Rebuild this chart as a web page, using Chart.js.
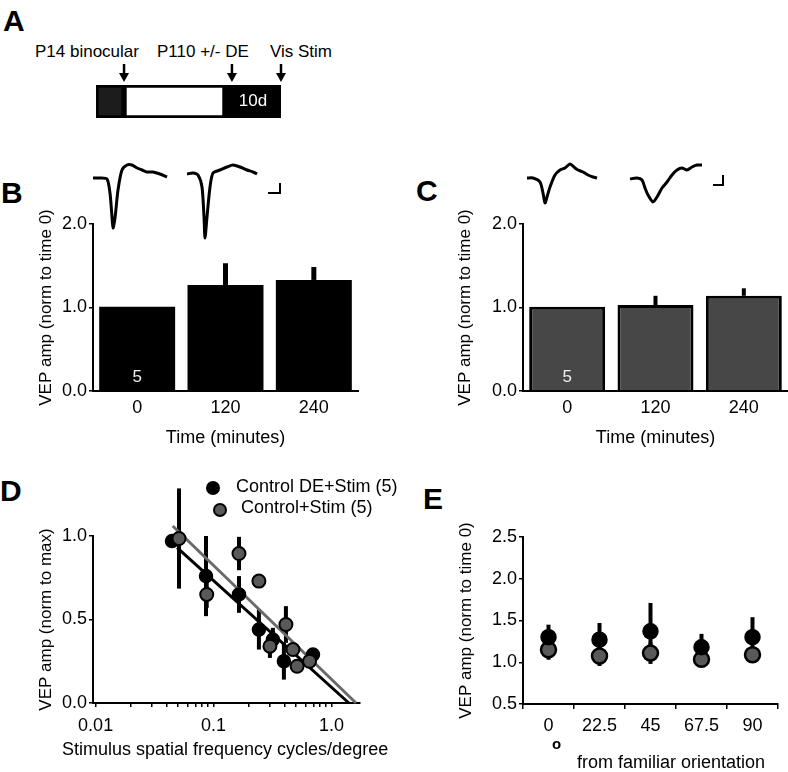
<!DOCTYPE html>
<html lang="en">
<head>
<meta charset="UTF-8">
<title>VEP amplitude figure</title>
<script src="https://cdn.jsdelivr.net/npm/chart.js@4"></script>
<style>
  body { margin: 0; background: #fff; }
  #fig { position: relative; width: 788px; height: 772px; overflow: hidden;
         font-family: 'Liberation Sans', Arial, sans-serif; color: #000; background: #fff; }
  #fig canvas, #fig .t, #fig .dot { position: absolute; }
  .t { white-space: nowrap; line-height: 1; }
  .panel { font-size: 30px; font-weight: bold; }
  .note { font-size: 17px; }
  .leg { font-size: 18px; }
  .dot { width: 14px; height: 14px; border-radius: 50%; box-sizing: border-box; }
</style>
</head>
<body>
<div id="fig">
  <div class="t panel" style="left:3px;top:6px">A</div>
  <div class="t panel" style="left:1px;top:178px">B</div>
  <div class="t panel" style="left:416px;top:176px">C</div>
  <div class="t panel" style="left:0px;top:476px">D</div>
  <div class="t panel" style="left:423px;top:484px">E</div>

  <div class="t note" style="left:35px;top:43px">P14 binocular</div>
  <div class="t note" style="left:157px;top:43px">P110 +/- DE</div>
  <div class="t note" style="left:270px;top:43px">Vis Stim</div>
  <canvas id="cA" width="200" height="65" style="left:90px;top:60px"></canvas>

  <canvas id="trB" width="205" height="95" style="left:85px;top:155px"></canvas>
  <canvas id="trC" width="215" height="60" style="left:515px;top:155px"></canvas>

  <canvas id="cB" width="370" height="255" style="left:0px;top:200px"></canvas>
  <canvas id="cC" width="358" height="255" style="left:430px;top:200px"></canvas>
  <canvas id="cD" width="400" height="302" style="left:0px;top:470px"></canvas>
  <canvas id="cE" width="358" height="302" style="left:430px;top:470px"></canvas>

  <span class="dot" style="left:206px;top:481px;background:#000"></span>
  <div class="t leg" style="left:236px;top:477px">Control DE+Stim (5)</div>
  <span class="dot" style="left:213px;top:503px;background:#595959;border:2px solid #000"></span>
  <div class="t leg" style="left:241px;top:498px">Control+Stim (5)</div>

  <div class="t leg" style="left:62px;top:740px">Stimulus spatial frequency cycles/degree</div>

  <div class="t" style="left:552px;top:736px;font-size:15px;font-weight:bold">o</div>
  <div class="t leg" style="left:577px;top:753px">from familiar orientation</div>
</div>

<script>
// ---- panel A: timeline (arbitrary units along the bar) ----
const timelineSegments = [1, 3.6, 2];
const timelineText = ['', '', '10d'];
const timelineArrows = [1, 4.85, 6.6];

// ---- panels B / C: VEP amplitude over time ----
const timeLabels = ['0', '120', '240'];
const vepDE = [1.01, 1.27, 1.33];
const vepDEErr = [0, 0.26, 0.155];
const vepCtrl = [1.01, 1.03, 1.14];
const vepCtrlErr = [0, 0.11, 0.09];
const barCounts = ['5', '', ''];

// example traces (ms, uV-ish units)
const trB0x = [8, 15, 22, 25, 27, 28, 30, 33, 37, 42, 47, 52, 57, 62, 68, 75, 82];
const trB0y = [0, 0, -1, -15, -39, -50, -40, -12, 8, 13, 13, 10, 8, 6, 6, 4, 1];
const trB1x = [102, 108, 113, 117, 119, 120, 122, 125, 128, 135, 142, 148, 155, 162, 168, 172];
const trB1y = [4, 5, 3, -9, -39, -60, -39, -9, 5, 8, 11, 13, 11, 8, 6, 4];
const scaleBx = [183, 195, 195];
const scaleBy = [-15, -15, -5];
const trC0x = [12, 18, 25, 28, 30, 32, 35, 40, 45, 50, 55, 60, 63, 68, 73, 78, 82];
const trC0y = [0, 0, -4, -15, -25, -19, -9, 3, 8, 10, 14, 10, 8, 6, 3, 1, 0];
const trC1x = [115, 122, 127, 130, 133, 138, 142, 147, 152, 157, 162, 167, 172, 177, 182, 187];
const trC1y = [-1, 0, -2, -10, -17, -24, -19, -10, -4, 3, 8, 10, 8, 11, 13, 13];
const scaleCx = [198, 208, 208];
const scaleCy = [-7, -7, 3];

// ---- panel D: spatial frequency ----
const sfDE = [0.0444, 0.0862, 0.164, 0.242, 0.318, 0.394, 0.695];
const ampDE = [0.97, 0.76, 0.65, 0.44, 0.38, 0.25, 0.29];
const errDE = [0, 0.24, 0.11, 0.12, 0.07, 0.11, 0.03];
const sfCtrl = [0.0509, 0.0874, 0.164, 0.242, 0.30, 0.41, 0.47, 0.51, 0.65];
const ampCtrl = [0.985, 0.65, 0.895, 0.73, 0.34, 0.47, 0.32, 0.22, 0.25];
const errCtrl = [0.30, 0.08, 0.10, 0, 0.07, 0.11, 0, 0, 0];
const fitDEx = [0.049, 1.40];
const fitDEy = [0.93, 0];
const fitCtrlx = [0.045, 1.61];
const fitCtrly = [1.06, 0];
const sfTicks = [0.01, 0.02, 0.03, 0.04, 0.05, 0.06, 0.07, 0.08, 0.09,
                 0.1, 0.2, 0.3, 0.4, 0.5, 0.6, 0.7, 0.8, 0.9, 1.0];
const sfTickLabels = { 0.01: '0.01', 0.1: '0.1', 1: '1.0' };

// ---- panel E: orientation ----
const orientLabels = ['0', '22.5', '45', '67.5', '90'];
const oriDE = [1.30, 1.27, 1.37, 1.18, 1.30];
const oriDEErr = [0.15, 0.20, 0.34, 0.16, 0.24];
const oriCtrl = [1.15, 1.075, 1.11, 1.035, 1.09];
const oriCtrlErr = [0.12, 0.12, 0.13, 0.05, 0.05];

const GREY = '#595959';
const FONT = "'Liberation Sans', Arial, sans-serif";
Chart.defaults.font.family = FONT;
Chart.defaults.font.size = 18;
Chart.defaults.color = '#000';

const pts = (xs, ys) => xs.map((x, i) => ({ x: x, y: ys[i] }));
const fixY = w => s => { s.width = w; s.paddingTop = 0; s.paddingBottom = 0; };
const fixX = h => s => { s.height = h; s.paddingLeft = 0; s.paddingRight = 0; };
const base = { responsive: false, animation: false, devicePixelRatio: 1,
  plugins: { legend: { display: false }, tooltip: { enabled: false } } };

// vertical error bars, drawn under the marks
const errorBars = {
  id: 'errorBars',
  beforeDatasetsDraw(chart) {
    const ctx = chart.ctx, y = chart.scales.y;
    chart.data.datasets.forEach((ds, i) => {
      if (!ds.errors) return;
      const meta = chart.getDatasetMeta(i);
      ctx.save();
      ctx.strokeStyle = '#000';
      ctx.lineWidth = ds.errorWidth || 4;
      meta.data.forEach((el, j) => {
        const e = ds.errors[j];
        if (!e) return;
        const v = typeof ds.data[j] === 'object' ? ds.data[j].y : ds.data[j];
        const top = y.getPixelForValue(v + e);
        const bot = ds.errorUp ? y.getPixelForValue(v) : y.getPixelForValue(v - e);
        ctx.beginPath();
        ctx.moveTo(el.x, top);
        ctx.lineTo(el.x, bot);
        ctx.stroke();
      });
      ctx.restore();
    });
  }
};

// "n" inside the first bar
const barCount = {
  id: 'barCount',
  afterDatasetsDraw(chart) {
    const ctx = chart.ctx, y0 = chart.scales.y.getPixelForValue(0);
    chart.data.datasets.forEach((ds, i) => {
      if (!ds.inside) return;
      chart.getDatasetMeta(i).data.forEach((el, j) => {
        if (!ds.inside[j]) return;
        ctx.save();
        ctx.fillStyle = '#eee';
        ctx.font = '17px ' + FONT;
        ctx.textAlign = 'center';
        ctx.textBaseline = 'middle';
        ctx.fillText(ds.inside[j], el.x, y0 - 14);
        ctx.restore();
      });
    });
  }
};

// timeline label + arrows
const timelineDeco = {
  id: 'timelineDeco',
  afterDraw(chart) {
    const ctx = chart.ctx, top = chart.chartArea.top;
    chart.data.datasets.forEach((ds, i) => {
      const el = chart.getDatasetMeta(i).data[0];
      if (!ds.inside[0]) return;
      ctx.save();
      ctx.fillStyle = '#fff';
      ctx.font = '17px ' + FONT;
      ctx.textAlign = 'center';
      ctx.textBaseline = 'middle';
      ctx.fillText(ds.inside[0], (el.x + el.base) / 2, el.y);
      ctx.restore();
    });
    ctx.save();
    ctx.strokeStyle = '#000';
    ctx.fillStyle = '#000';
    ctx.lineWidth = 2.5;
    timelineArrows.forEach(v => {
      const x = chart.scales.x.getPixelForValue(v);
      ctx.beginPath();
      ctx.moveTo(x, top - 21);
      ctx.lineTo(x, top - 10);
      ctx.stroke();
      ctx.beginPath();
      ctx.moveTo(x - 5, top - 12);
      ctx.lineTo(x + 5, top - 12);
      ctx.lineTo(x, top - 3);
      ctx.closePath();
      ctx.fill();
    });
    ctx.restore();
  }
};

// ---- A ----
const timelineColors = ['#1c1c1c', '#fff', '#000'];
new Chart(document.getElementById('cA'), {
  type: 'bar',
  data: {
    labels: [''],
    datasets: timelineSegments.map((v, i) => ({
      data: [v], inside: [timelineText[i]],
      backgroundColor: timelineColors[i], borderColor: '#000', borderWidth: 3,
      borderSkipped: false, barPercentage: 1, categoryPercentage: 1
    }))
  },
  options: Object.assign({}, base, {
    indexAxis: 'y',
    layout: { padding: { left: 6, right: 9, top: 25, bottom: 7 } },
    scales: {
      x: { stacked: true, display: false, min: 0, max: 6.6 },
      y: { stacked: true, display: false }
    }
  }),
  plugins: [timelineDeco]
});

// ---- traces ----
function traceChart(id, sets, xmax, ymin, ymax) {
  new Chart(document.getElementById(id), {
    type: 'line',
    data: { datasets: sets },
    options: Object.assign({}, base, {
      layout: { padding: 0 },
      scales: {
        x: { type: 'linear', display: false, min: 0, max: xmax },
        y: { display: false, min: ymin, max: ymax }
      }
    })
  });
}
const trace = (xs, ys) => ({ data: pts(xs, ys), borderColor: '#000', borderWidth: 3,
  pointRadius: 0, tension: 0.25, clip: false });
const bar = (xs, ys) => ({ data: pts(xs, ys), borderColor: '#000', borderWidth: 2,
  pointRadius: 0, tension: 0, clip: false });
traceChart('trB', [trace(trB0x, trB0y), trace(trB1x, trB1y), bar(scaleBx, scaleBy)], 205, -72, 23);
traceChart('trC', [trace(trC0x, trC0y), trace(trC1x, trC1y), bar(scaleCx, scaleCy)], 215, -37, 23);

// ---- B and C bar charts ----
function barChart(id, values, errs, fill, border, errW, padRight, titlePad) {
  new Chart(document.getElementById(id), {
    type: 'bar',
    data: {
      labels: timeLabels,
      datasets: [{
        data: values, errors: errs, errorUp: true, errorWidth: errW, inside: barCounts,
        backgroundColor: fill, borderColor: '#000', borderWidth: border,
        barPercentage: 0.86, categoryPercentage: 1
      }]
    },
    options: Object.assign({}, base, {
      layout: { padding: { top: 24, right: padRight, left: 0, bottom: 0 } },
      scales: {
        x: {
          grid: { display: false, drawTicks: false },
          border: { color: '#000', width: 2 },
          ticks: { padding: 6 },
          title: { display: true, text: 'Time (minutes)', padding: { top: 0, bottom: 6 } },
          afterFit: fixX(64)
        },
        y: {
          min: 0, max: 2,
          ticks: { stepSize: 1, padding: 2, callback: v => v.toFixed(1) },
          grid: { drawOnChartArea: false, tickLength: 4, color: '#000', lineWidth: 1.5 },
          border: { color: '#000', width: 2 },
          title: { display: true, text: 'VEP amp (norm to time 0)', font: { size: 17 },
                   padding: { top: titlePad, bottom: 0 } },
          afterFit: fixY(93)
        }
      }
    }),
    plugins: [errorBars, barCount]
  });
}
barChart('cB', vepDE, vepDEErr, '#000', 0, 5, 12, 36);
barChart('cC', vepCtrl, vepCtrlErr, '#474747', 3, 4, 0, 25);

// ---- D ----
new Chart(document.getElementById('cD'), {
  type: 'scatter',
  data: {
    datasets: [
      { data: pts(fitDEx, fitDEy), showLine: true, borderColor: '#000', borderWidth: 3,
        pointRadius: 0, order: 3, clip: false },
      { data: pts(fitCtrlx, fitCtrly), showLine: true, borderColor: '#6a6a6a', borderWidth: 3,
        pointRadius: 0, order: 2, clip: false },
      { data: pts(sfDE, ampDE), errors: errDE, backgroundColor: '#000', borderColor: '#000',
        borderWidth: 1.5, pointRadius: 6.5, order: 1, clip: false },
      { data: pts(sfCtrl, ampCtrl), errors: errCtrl, backgroundColor: GREY, borderColor: '#000',
        borderWidth: 2, pointRadius: 6.5, order: 0, clip: false }
    ]
  },
  options: Object.assign({}, base, {
    layout: { padding: { top: 66, right: 40, left: 0, bottom: 0 } },
    scales: {
      x: {
        type: 'logarithmic', min: 0.0095, max: 1.74,
        afterBuildTicks: s => { s.ticks = sfTicks.map(v => ({ value: v })); },
        ticks: { autoSkip: false, maxRotation: 0, padding: 8,
                 callback: v => sfTickLabels[v] || '' },
        grid: { drawOnChartArea: false, tickLength: 4, color: '#000', lineWidth: 1.5 },
        border: { color: '#000', width: 2 },
        afterFit: fixX(69)
      },
      y: {
        min: 0, max: 1,
        ticks: { stepSize: 0.5, padding: 2, callback: v => v.toFixed(1) },
        grid: { drawOnChartArea: false, tickLength: 4, color: '#000', lineWidth: 1.5 },
        border: { color: '#000', width: 2 },
        title: { display: true, text: 'VEP amp (norm to max)', font: { size: 17 },
                 padding: { top: 36, bottom: 0 } },
        afterFit: fixY(93)
      }
    }
  }),
  plugins: [errorBars]
});

// ---- E ----
new Chart(document.getElementById('cE'), {
  type: 'line',
  data: {
    labels: orientLabels,
    datasets: [
      { data: oriDE, errors: oriDEErr, showLine: false, backgroundColor: '#000',
        borderColor: '#000', borderWidth: 1.5, pointRadius: 7.5, order: 0, clip: false },
      { data: oriCtrl, errors: oriCtrlErr, showLine: false, backgroundColor: GREY,
        borderColor: '#000', borderWidth: 2.5, pointRadius: 7.5, order: 1, clip: false }
    ]
  },
  options: Object.assign({}, base, {
    layout: { padding: { top: 67, right: 0, left: 0, bottom: 0 } },
    scales: {
      x: {
        offset: true,
        grid: { offset: true, drawOnChartArea: false, tickLength: 5, color: '#000', lineWidth: 1.5 },
        border: { color: '#000', width: 2 },
        ticks: { padding: 6 },
        afterFit: fixX(68)
      },
      y: {
        min: 0.5, max: 2.5,
        ticks: { stepSize: 0.5, padding: 2, callback: v => v.toFixed(1) },
        grid: { drawOnChartArea: false, tickLength: 4, color: '#000', lineWidth: 1.5 },
        border: { color: '#000', width: 2 },
        title: { display: true, text: 'VEP amp (norm to time 0)', font: { size: 17 },
                 padding: { top: 26, bottom: 0 } },
        afterFit: fixY(93)
      }
    }
  }),
  plugins: [errorBars]
});
</script>
</body>
</html>
